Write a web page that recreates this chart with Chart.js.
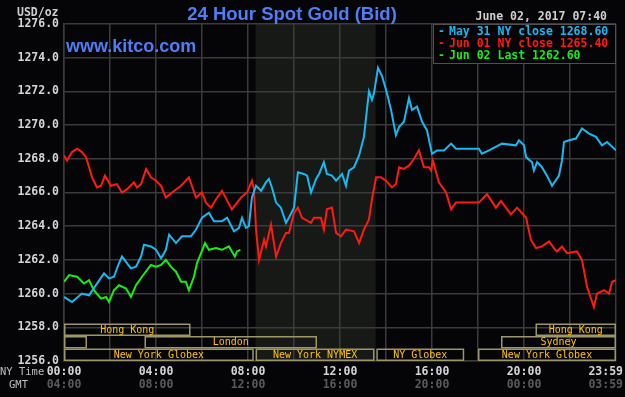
<!DOCTYPE html>
<html>
<head>
<meta charset="utf-8">
<title>24 Hour Spot Gold (Bid)</title>
<script src="https://cdn.jsdelivr.net/npm/chart.js@4.4.0/dist/chart.umd.min.js"></script>
<style>
  html, body { margin: 0; padding: 0; background: #050507; }
  #wrap { width: 625px; height: 397px; }
</style>
</head>
<body>
<div id="wrap"><canvas id="goldChart" width="625" height="397"></canvas></div>
<script>
// hours after midnight (NY time) and bid prices
const may31Hours = [0.00, 0.35, 0.78, 1.09, 1.39, 1.74, 1.96, 2.17, 2.39, 2.52, 2.91, 3.13, 3.35, 3.48, 3.78, 4.00, 4.22, 4.43, 4.57, 4.87,
  5.13, 5.52, 5.74, 6.00, 6.30, 6.52, 6.87, 7.09, 7.39, 7.61, 7.74, 7.91, 8.04, 8.17, 8.35, 8.57, 8.78, 8.91, 9.04, 9.22,
  9.43, 9.65, 9.78, 10.00, 10.17, 10.43, 10.57, 10.74, 10.96, 11.09, 11.30, 11.43, 11.65, 11.83, 12.09, 12.26, 12.39, 12.61, 12.83, 13.04,
  13.17, 13.26, 13.39, 13.48, 13.65, 13.83, 14.04, 14.22, 14.43, 14.57, 14.78, 15.00, 15.13, 15.35, 15.57, 15.78, 16.00, 16.22, 16.52, 16.83,
  17.04, 18.04, 18.17, 18.48, 19.04, 19.65, 19.78, 20.00, 20.09, 20.35, 20.43, 20.57, 20.78, 21.00, 21.22, 21.52, 21.65, 21.74, 21.96, 22.26,
  22.52, 22.83, 23.13, 23.39, 23.61, 24.00];
const may31Prices = [1259.8, 1259.5, 1260.0, 1259.9, 1260.5, 1261.2, 1260.9, 1261.0, 1261.8, 1262.2, 1261.5, 1261.6, 1262.2, 1262.9, 1262.8, 1262.6, 1262.1, 1262.6, 1263.5, 1263.0,
  1263.4, 1263.4, 1263.8, 1264.5, 1264.8, 1264.3, 1264.3, 1264.5, 1263.7, 1263.9, 1264.5, 1263.9, 1264.0, 1265.7, 1266.4, 1266.1, 1266.6, 1266.8, 1266.3, 1265.4,
  1265.1, 1264.2, 1264.5, 1265.1, 1267.2, 1267.1, 1267.0, 1266.0, 1266.8, 1267.1, 1267.8, 1267.1, 1267.0, 1266.7, 1267.1, 1266.4, 1267.3, 1267.5, 1268.2, 1269.3,
  1270.9, 1272.0, 1271.5, 1271.9, 1273.4, 1272.9, 1271.9, 1270.9, 1269.4, 1269.9, 1270.2, 1271.6, 1270.9, 1271.1, 1270.2, 1269.7, 1268.3, 1268.5, 1268.5, 1268.9,
  1268.6, 1268.6, 1268.3, 1268.5, 1268.9, 1268.8, 1269.1, 1268.8, 1268.1, 1267.8, 1267.3, 1267.8, 1267.5, 1267.0, 1266.4, 1267.0, 1267.9, 1269.0, 1269.1, 1269.2,
  1269.8, 1269.5, 1269.3, 1268.8, 1269.0, 1268.5];

const jun01Hours = [0.00, 0.13, 0.35, 0.57, 0.78, 0.96, 1.22, 1.43, 1.61, 1.78, 2.04, 2.30, 2.52, 2.74, 3.04, 3.17, 3.35, 3.57, 3.78, 4.00,
  4.22, 4.43, 4.70, 5.09, 5.43, 5.74, 6.00, 6.17, 6.39, 6.61, 6.87, 7.30, 7.70, 7.96, 8.17, 8.26, 8.35, 8.48, 8.70, 8.78,
  9.00, 9.22, 9.43, 9.65, 9.78, 10.00, 10.17, 10.35, 10.74, 10.87, 11.17, 11.30, 11.43, 11.65, 11.83, 12.04, 12.26, 12.61, 12.83, 13.04,
  13.26, 13.39, 13.57, 13.78, 14.00, 14.26, 14.43, 14.57, 14.78, 15.00, 15.22, 15.43, 15.65, 15.87, 15.96, 16.04, 16.30, 16.61, 16.83, 17.04,
  18.04, 18.39, 18.78, 19.00, 19.43, 19.70, 20.09, 20.30, 20.52, 20.78, 21.09, 21.30, 21.43, 21.65, 21.87, 22.30, 22.52, 22.74, 23.04, 23.17,
  23.48, 23.70, 23.83, 24.00];
const jun01Prices = [1268.2, 1267.9, 1268.4, 1268.6, 1268.4, 1268.1, 1266.9, 1266.3, 1266.4, 1267.0, 1266.4, 1266.5, 1266.0, 1266.2, 1266.6, 1266.3, 1266.5, 1267.4, 1266.9, 1266.7,
  1266.4, 1265.7, 1266.0, 1266.4, 1266.9, 1265.7, 1266.0, 1265.4, 1265.1, 1265.6, 1266.1, 1265.0, 1265.7, 1266.0, 1266.7, 1266.2, 1263.8, 1262.0, 1263.2, 1262.8,
  1264.1, 1262.2, 1263.0, 1263.6, 1263.6, 1264.8, 1265.1, 1264.5, 1264.2, 1264.5, 1264.5, 1263.8, 1265.0, 1265.1, 1263.6, 1263.4, 1263.8, 1263.7, 1263.0, 1263.8,
  1264.4, 1265.6, 1266.9, 1266.9, 1266.7, 1266.3, 1266.5, 1267.5, 1267.4, 1267.6, 1268.0, 1268.5, 1267.5, 1267.5, 1267.3, 1267.9, 1266.6, 1266.0, 1265.0, 1265.4,
  1265.4, 1265.9, 1265.1, 1265.5, 1264.7, 1265.1, 1264.5, 1263.2, 1262.7, 1262.8, 1263.1, 1262.7, 1262.5, 1262.8, 1262.4, 1262.5, 1262.0, 1260.4, 1259.2, 1260.0,
  1260.2, 1260.0, 1260.7, 1260.8];

const jun02Hours = [0.00, 0.22, 0.57, 0.87, 1.09, 1.30, 1.61, 1.83, 1.96, 2.17, 2.39, 2.70, 2.91, 3.13, 3.39, 3.61, 3.78, 4.00, 4.22, 4.43,
  4.65, 4.87, 5.09, 5.30, 5.43, 5.65, 5.78, 5.96, 6.13, 6.30, 6.61, 6.87, 7.17, 7.30, 7.43, 7.52, 7.67];
const jun02Prices = [1260.7, 1261.1, 1261.0, 1260.6, 1260.8, 1260.2, 1259.7, 1259.8, 1259.5, 1260.2, 1260.5, 1260.3, 1259.8, 1260.5, 1261.0, 1261.4, 1261.7, 1261.6, 1261.7, 1262.0,
  1261.6, 1261.3, 1260.7, 1260.7, 1260.2, 1261.0, 1261.8, 1262.4, 1263.0, 1262.6, 1262.7, 1262.6, 1262.8, 1262.5, 1262.2, 1262.5, 1262.6];

const legendTexts = ['May 31 NY close 1268.60', 'Jun 01 NY close 1265.40', 'Jun 02 Last 1262.60'];

const labelHours = [0, 4, 8, 12, 16, 20, 24];
const nyTimeLabels = ['00:00', '04:00', '08:00', '12:00', '16:00', '20:00', '23:59'];
const gmtLabels = ['04:00', '08:00', '12:00', '16:00', '20:00', '00:00', '03:59'];

// trading sessions (NY hours)
const sessionNames = ['Hong Kong', 'Hong Kong', '', 'London', 'Sydney', 'New York Globex', 'New York NYMEX', 'NY Globex', 'New York Globex'];
const sessionStart = [0, 20.5, 0, 3.5, 19, 0, 8.33, 13.58, 18];
const sessionEnd = [5.5, 24, 1, 11, 24, 8.25, 13.5, 17.4, 24];
const sessionRow = [0, 0, 1, 1, 1, 2, 2, 2, 2];

const nymexStart = 8.33;
const nymexEnd = 13.55;

const toPoints = (hours, prices) => hours.map((h, i) => ({ x: h, y: prices[i] }));

const MONO = '"DejaVu Sans Mono", "Liberation Mono", monospace';

const kitcoPlugin = {
  id: 'kitco',
  beforeDraw(chart) {
    const { ctx, chartArea } = chart;
    const x = chart.scales.x;
    ctx.save();
    ctx.fillStyle = '#050507';
    ctx.fillRect(0, 0, chart.width, chart.height);
    // NYMEX hours shading
    ctx.fillStyle = '#161916';
    const x0 = x.getPixelForValue(nymexStart);
    const x1 = x.getPixelForValue(nymexEnd);
    ctx.fillRect(x0, chartArea.top, x1 - x0, chartArea.bottom - chartArea.top);
    ctx.restore();
  },
  afterDraw(chart) {
    const { ctx, chartArea } = chart;
    const x = chart.scales.x;
    ctx.save();

    // session boxes
    const rowH = 12.5;
    const rowTop = chartArea.bottom - 3 * rowH;
    ctx.lineWidth = 1.5;
    ctx.strokeStyle = '#9d9768';
    ctx.fillStyle = '#ffc400';
    ctx.font = '10px ' + MONO;
    ctx.textAlign = 'center';
    ctx.textBaseline = 'middle';
    sessionNames.forEach((name, i) => {
      const a = x.getPixelForValue(sessionStart[i]);
      const b = x.getPixelForValue(sessionEnd[i]);
      const top = rowTop + sessionRow[i] * rowH;
      ctx.strokeRect(a + 0.75, top + 0.75, b - a - 1.5, rowH - 1.5);
      if (name) ctx.fillText(name, (a + b) / 2, top + rowH / 2 + 0.5);
    });

    // time labels under the plot
    ctx.font = 'bold 11.5px ' + MONO;
    labelHours.forEach((h, i) => {
      let px = x.getPixelForValue(h);
      const w = ctx.measureText(nyTimeLabels[i]).width;
      px = Math.min(px, 623 - w / 2);
      ctx.fillStyle = '#d4d4d4';
      ctx.fillText(nyTimeLabels[i], px, 372);
      ctx.fillStyle = '#5a5a5a';
      ctx.fillText(gmtLabels[i], px, 385);
    });
    ctx.font = '10.5px ' + MONO;
    ctx.textAlign = 'left';
    ctx.fillStyle = '#bdbdbd';
    ctx.fillText('NY Time', 0, 372);
    ctx.fillText('GMT', 9, 385);

    // units and date
    ctx.font = 'bold 11.5px ' + MONO;
    ctx.textBaseline = 'alphabetic';
    ctx.fillStyle = '#cfcfcf';
    ctx.fillText('USD/oz', 17, 16);
    ctx.textAlign = 'right';
    ctx.fillText('June 02, 2017 07:40', 607, 20);

    // title and site
    ctx.fillStyle = '#4d7ef7';
    ctx.textAlign = 'center';
    ctx.font = 'bold 18.5px "Liberation Sans", Arial, sans-serif';
    ctx.fillText('24 Hour Spot Gold (Bid)', 292, 20);
    ctx.textAlign = 'left';
    ctx.font = 'bold 18px "Liberation Sans", Arial, sans-serif';
    ctx.fillText('www.kitco.com', 66, 52);

    // legend box
    const lx = x.getPixelForValue(16) + 1;
    const rx = chartArea.right;
    ctx.fillStyle = '#050507';
    ctx.fillRect(lx, chartArea.top, rx - lx, 39);
    ctx.strokeStyle = '#505050';
    ctx.lineWidth = 1;
    ctx.strokeRect(lx + 0.5, chartArea.top + 0.5, rx - lx - 1, 39);
    ctx.font = 'bold 11.5px ' + MONO;
    chart.data.datasets.forEach((ds, i) => {
      ctx.fillStyle = ds.borderColor;
      ctx.fillText('-', lx + 5, chartArea.top + 11 + i * 11.8);
      ctx.fillText(legendTexts[i], lx + 16, chartArea.top + 11 + i * 11.8);
    });
    ctx.restore();
  }
};

const gridColor = '#3b3b3b';

new Chart(document.getElementById('goldChart').getContext('2d'), {
  type: 'line',
  data: {
    datasets: [
      { label: 'May 31', data: toPoints(may31Hours, may31Prices), borderColor: '#17b9f2', borderWidth: 2, pointRadius: 0, tension: 0 },
      { label: 'Jun 01', data: toPoints(jun01Hours, jun01Prices), borderColor: '#ff1a12', borderWidth: 2, pointRadius: 0, tension: 0 },
      { label: 'Jun 02', data: toPoints(jun02Hours, jun02Prices), borderColor: '#16ee16', borderWidth: 2, pointRadius: 0, tension: 0 },
    ],
  },
  options: {
    responsive: false,
    animation: false,
    events: [],
    layout: { padding: { top: 24, right: 9, left: 0, bottom: 0 } },
    plugins: { legend: { display: false }, tooltip: { enabled: false }, title: { display: false } },
    scales: {
      x: {
        type: 'linear',
        min: 0,
        max: 24,
        ticks: { display: false, stepSize: 2 },
        grid: { color: gridColor, lineWidth: 1.5, drawTicks: false },
        border: { color: gridColor, width: 1.5 },
        afterFit: (scale) => { scale.height = 36; },
      },
      y: {
        min: 1256,
        max: 1276,
        ticks: {
          stepSize: 2,
          padding: 5,
          color: '#d4d4d4',
          font: { family: MONO, size: 11.5, weight: 'bold' },
          callback: (v) => v.toFixed(1),
        },
        grid: { color: gridColor, lineWidth: 1.5, drawTicks: false },
        border: { color: gridColor, width: 1.5 },
        afterFit: (scale) => { scale.width = 64; },
      },
    },
  },
  plugins: [kitcoPlugin],
});
</script>
</body>
</html>
